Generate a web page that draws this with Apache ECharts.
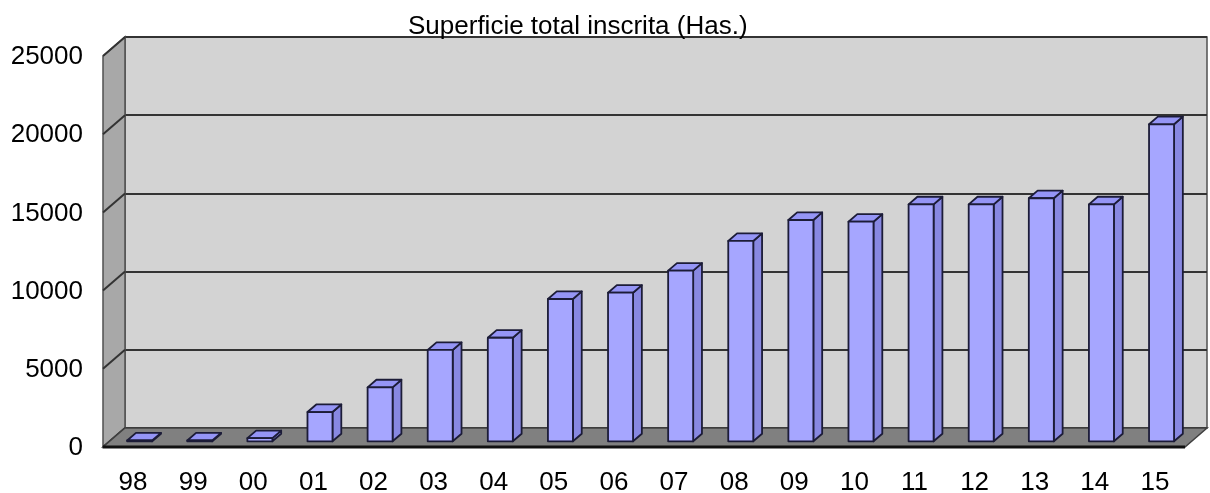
<!DOCTYPE html>
<html>
<head>
<meta charset="utf-8">
<script src="https://cdn.jsdelivr.net/npm/echarts@6/dist/echarts.min.js"></script>
<style>
    html, body { margin: 0; padding: 0; background: #fff; }
    #chart { width: 1210px; height: 493px; }
</style>
</head>
<body>
<div id="chart"></div>
<script>
const YEARS = ['98', '99', '00', '01', '02', '03', '04', '05', '06', '07', '08', '09', '10', '11', '12', '13', '14', '15'];
const SUPERFICIE = [50, 50, 200, 1870, 3450, 5840, 6620, 9100, 9500, 10910, 12810, 14150, 14040, 15150, 15150, 15540, 15150, 20270];
const Y_TICKS = [0, 5000, 10000, 15000, 20000, 25000];

// profundidad del efecto 3D (de la pared del fondo al frente)
const DX = -22;
const DY = 19;
const BAR_FRONT = 0.7;
const BAR_BACK = 0.3;

const chart = echarts.init(document.getElementById('chart'));

function renderWalls(params, api) {
    const cs = params.coordSys;
    const x = cs.x, y = cs.y, w = cs.width, h = cs.height;
    const children = [];

    // pared izquierda
    children.push({
        type: 'polygon',
        shape: { points: [[x + DX, y + DY], [x, y], [x, y + h], [x + DX, y + h + DY]] },
        style: { fill: '#a8a8a8', stroke: '#505050', lineWidth: 1.5 }
    });
    // lineas de la pared izquierda
    Y_TICKS.forEach(v => {
        const py = api.coord([0, v])[1];
        children.push({
            type: 'line',
            shape: { x1: x, y1: py, x2: x + DX, y2: py + DY },
            style: { stroke: '#333', lineWidth: 2 }
        });
    });
    // suelo
    children.push({
        type: 'polygon',
        shape: { points: [[x, y + h], [x + w, y + h], [x + w + DX, y + h + DY], [x + DX, y + h + DY]] },
        style: { fill: '#808080', stroke: '#404040', lineWidth: 1.5 }
    });
    children.push({
        type: 'line',
        shape: { x1: x + DX, y1: y + h + DY, x2: x + w + DX, y2: y + h + DY },
        style: { stroke: '#111', lineWidth: 3 }
    });
    return { type: 'group', children: children };
}

function renderBar(params, api) {
    const i = api.value(0);
    const top = api.coord([i, api.value(1)]);
    const base = api.coord([i, 0]);
    const band = api.size([1, 0])[0];
    const hw = band * 0.208;
    const cx = top[0] + BAR_FRONT * DX;
    const x0 = cx - hw, x1 = cx + hw;
    const yTop = top[1] + BAR_FRONT * DY;
    const yBot = base[1] + BAR_FRONT * DY;
    const ox = -(BAR_FRONT - BAR_BACK) * DX;
    const oy = -(BAR_FRONT - BAR_BACK) * DY;
    const line = { stroke: '#1c1c38', lineWidth: 1.8, lineJoin: 'round' };
    return {
        type: 'group',
        children: [
            {
                type: 'polygon',
                shape: { points: [[x1, yTop], [x1 + ox, yTop + oy], [x1 + ox, yBot + oy], [x1, yBot]] },
                style: Object.assign({ fill: '#8888e2' }, line)
            },
            {
                type: 'polygon',
                shape: { points: [[x0, yTop], [x0 + ox, yTop + oy], [x1 + ox, yTop + oy], [x1, yTop]] },
                style: Object.assign({ fill: '#9595f6' }, line)
            },
            {
                type: 'rect',
                shape: { x: x0, y: yTop, width: x1 - x0, height: yBot - yTop },
                style: Object.assign({ fill: '#a6a6ff' }, line)
            }
        ]
    };
}

const option = {
    animation: false,
    title: {
        text: 'Superficie total inscrita (Has.)',
        left: 403,
        top: 9,
        textStyle: { fontFamily: 'Liberation Sans', fontSize: 26, fontWeight: 'normal', color: '#000' }
    },
    grid: {
        left: 125,
        right: 3,
        top: 37,
        bottom: 65,
        outerBoundsMode: 'none',
        containLabel: false,
        show: true,
        backgroundColor: '#d3d3d3',
        borderColor: '#505050',
        borderWidth: 1.5
    },
    xAxis: {
        type: 'category',
        data: YEARS,
        axisLine: { show: false },
        axisTick: { show: false },
        axisLabel: {
            interval: 0,
            margin: 42,
            formatter: v => '{a|' + v + '}',
            rich: { a: { fontFamily: 'Liberation Sans', fontSize: 26, color: '#000', padding: [0, 44, 0, 0] } }
        }
    },
    yAxis: {
        type: 'value',
        min: 0,
        max: 25000,
        interval: 5000,
        axisLine: { show: false },
        axisTick: { show: false },
        axisLabel: {
            margin: 42,
            formatter: v => '{a|' + v + '}',
            rich: { a: { fontFamily: 'Liberation Sans', fontSize: 26, color: '#000', padding: [40, 0, 0, 0] } }
        },
        splitLine: { lineStyle: { color: '#333', width: 2 } }
    },
    series: [
        {
            type: 'custom',
            renderItem: renderWalls,
            data: [[0, 0]],
            silent: true,
            z: 1
        },
        {
            type: 'custom',
            renderItem: renderBar,
            data: SUPERFICIE.map((v, i) => [i, v]),
            z: 3
        }
    ]
};

chart.setOption(option);
</script>
</body>
</html>
